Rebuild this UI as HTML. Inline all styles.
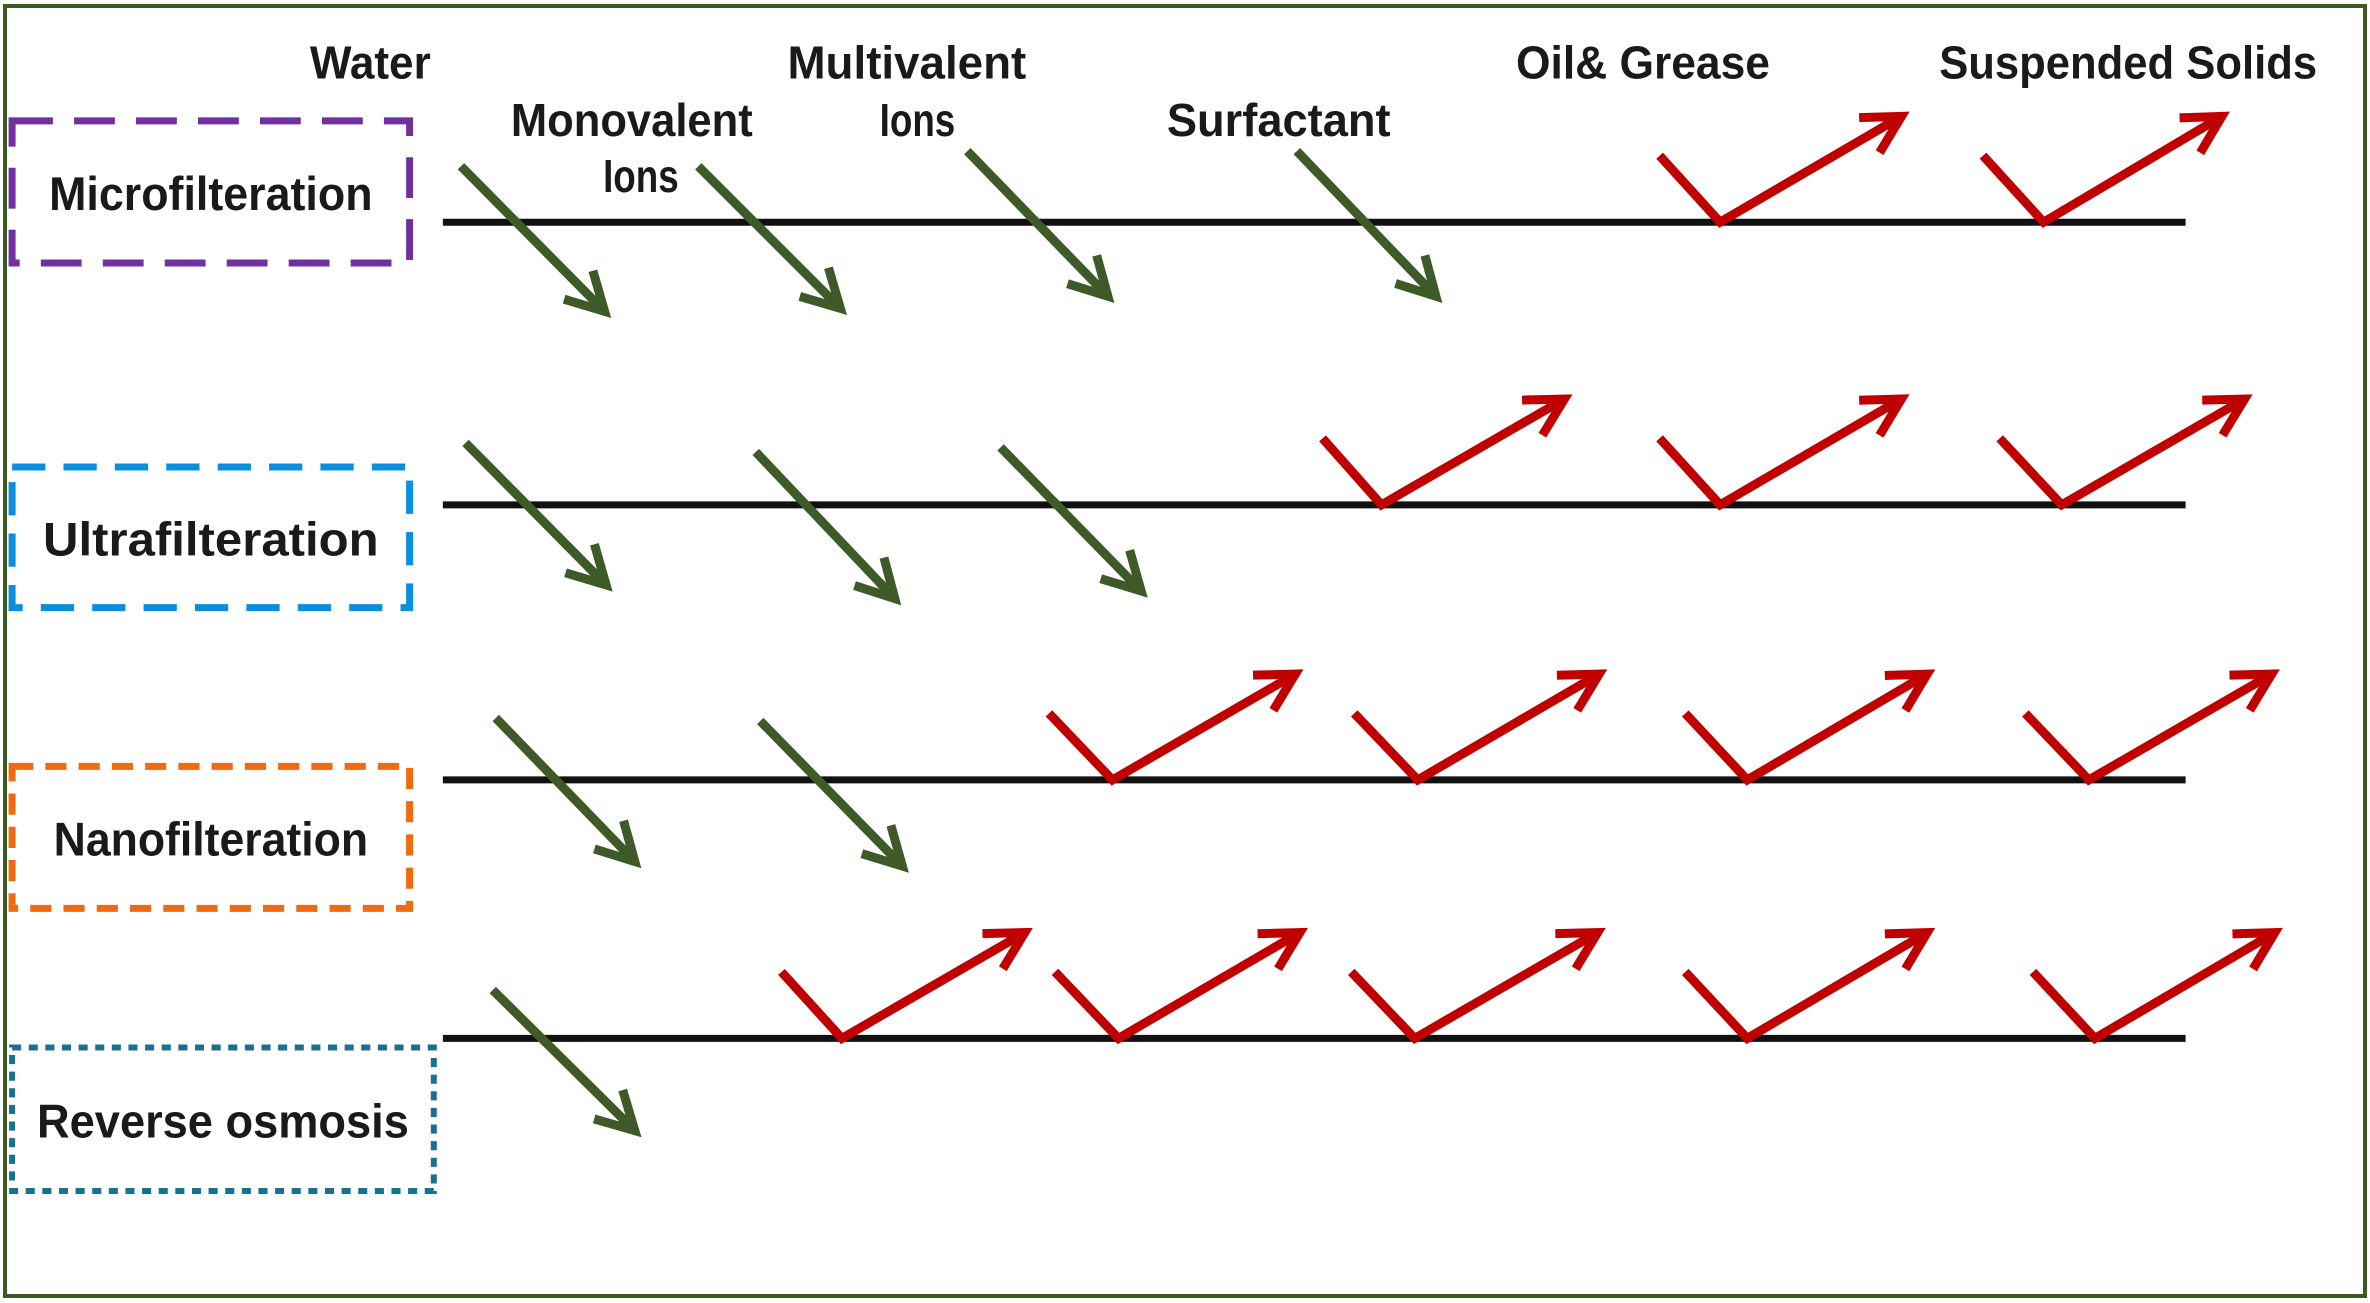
<!DOCTYPE html>
<html><head><meta charset="utf-8"><style>
html,body{margin:0;padding:0;background:#fff;}
svg{display:block;}
text{font-family:"Liberation Sans",sans-serif;font-weight:bold;fill:#1a1a1a;}
</style></head><body>
<svg id="c" width="2370" height="1303" viewBox="0 0 2370 1303" xmlns="http://www.w3.org/2000/svg">
<rect x="5" y="6" width="2360" height="1290" fill="#fff" stroke="#3b5a22" stroke-width="4"/>
<g id="labels"></g><g id="boxes"></g><g id="lines"></g><g id="marks"></g>
</svg>
<script>
const S = 2370/1568;
const NS = "http://www.w3.org/2000/svg";
const colLabels = [["Water",245,40,80],["Monovalent",418,78,160],["Ions",424,115,50],["Multivalent",600,40,158],["Ions",607,78,50],["Surfactant",846,78,148],["Oil& Grease",1087,40,168],["Suspended Solids",1408,40,250]];
const processes = ["Microfilteration","Ultrafilteration","Nanofilteration","Reverse osmosis"];
const boxColors = ["#7030a0","#0a8fe0","#f06a10","#1a7090"];
const boxDash = ["27 14","22 12","14 8","6 5"];
const boxRects = [[8,80,263,94],[8,309,263,93],[8,507,263,94],[8,693,279,95]];
const lineY = [147,334,516,687];
const passArrows = [
 [[305,110,400,206],[462,110,556,204],[640,100,733,196],[858,100,950,196]],
 [[308,293,401,387],[500,299,592,396],[662,296,755,391]],
 [[328,475,420,570],[503,477,597,573]],
 [[326,655,420,748]]
];
const rejectChecks = [
 [[1098,1138,1258],[1312,1352,1470]],
 [[875,914,1035],[1098,1138,1258],[1323,1364,1485]],
 [[694,736,857],[896,938,1058],[1115,1156,1275],[1340,1382,1503]],
 [[517,557,678],[698,740,860],[894,936,1057],[1115,1156,1275],[1345,1386,1505]]
];
function el(tag, attrs, parent){const e=document.createElementNS(NS,tag);for(const k in attrs)e.setAttribute(k,attrs[k]);parent.appendChild(e);return e;}
const gL=document.getElementById('labels'),gB=document.getElementById('boxes'),gN=document.getElementById('lines'),gM=document.getElementById('marks');
colLabels.forEach(l=>{
 const t=el('text',{x:l[1]*S,y:(l[2]+12)*S,'text-anchor':'middle','font-size':46,textLength:l[3]*S,lengthAdjust:'spacingAndGlyphs'},gL);
 
 
 t.textContent=l[0];
});
processes.forEach((p,i)=>{
 const r=boxRects[i];
 const b=el('rect',{x:r[0]*S,y:r[1]*S,width:r[2]*S,height:r[3]*S,fill:'none',stroke:boxColors[i],'stroke-width':i==3?6:7,'stroke-dasharray':boxDash[i].split(' ').map(v=>v*S).join(' ')},gB);
 
 
 const tw=[214,222,208,246][i];
 const t=el('text',{x:(r[0]+r[2]/2)*S,y:(r[1]+r[3]/2+12)*S,'text-anchor':'middle','font-size':47,textLength:tw*S,lengthAdjust:'spacingAndGlyphs'},gB);
 
 
 t.textContent=p;
 const ln=el('line',{x1:293*S,x2:1446*S,y1:lineY[i]*S,y2:lineY[i]*S,stroke:'#111','stroke-width':7},gN);
 
 
});
function head(x,y,ang){
 const L=28*S,a=0.5;
 const p1=[x-L*Math.cos(ang-a),y-L*Math.sin(ang-a)],p2=[x-L*Math.cos(ang+a),y-L*Math.sin(ang+a)];
 return `M${p1[0]},${p1[1]} L${x},${y} L${p2[0]},${p2[1]}`;
}
passArrows.forEach(row=>row.forEach(a=>{
 const x1=a[0]*S,y1=a[1]*S,x2=a[2]*S,y2=a[3]*S,ang=Math.atan2(y2-y1,x2-x1);
 const p=el('path',{d:`M${x1},${y1} L${x2},${y2} `+head(x2,y2,ang),fill:'none',stroke:'#3d5a28','stroke-width':9},gM);
 
 
}));
rejectChecks.forEach((row,i)=>row.forEach(c=>{
 const yb=lineY[i]*S,h=44*S,rise=70*S;
 const x0=c[0]*S,xb=c[1]*S,xt=c[2]*S,y0=yb-h,yt=yb-rise;
 const ang=Math.atan2(yt-yb,xt-xb);
 const p=el('path',{d:`M${x0},${y0} L${xb},${yb} L${xt},${yt} `+head(xt,yt,ang),fill:'none',stroke:'#c00000','stroke-width':9},gM);
 
 
}));
</script>
</body></html>
